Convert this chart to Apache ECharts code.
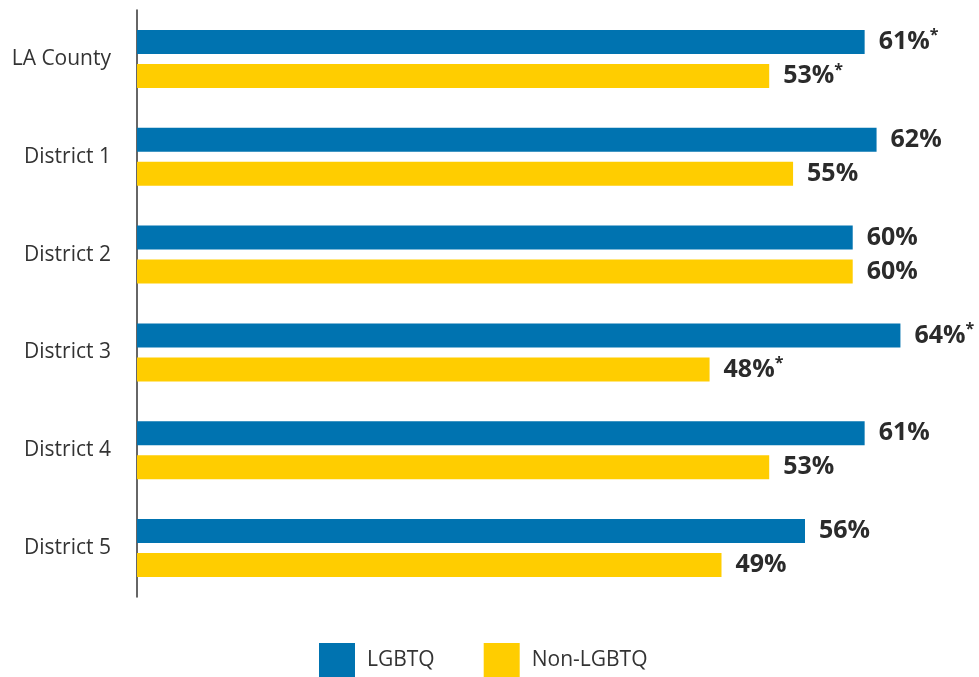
<!DOCTYPE html>
<html><head><meta charset="utf-8">
<script src="https://cdn.jsdelivr.net/npm/echarts@6/dist/echarts.min.js"></script>
<style>html,body{margin:0;padding:0;background:#fff}#c{width:979px;height:677px}</style>
</head><body><div id="c"></div>
<script>
const categories = ['LA County','District 1','District 2','District 3','District 4','District 5'];
const lgbtq = [61, 62, 60, 64, 61, 56];
const nonLgbtq = [53, 55, 60, 48, 53, 49];
const lgbtqStar = [true, false, false, true, false, false];
const nonLgbtqStar = [true, false, false, true, false, false];
const seriesNames = ['LGBTQ', 'Non-LGBTQ'];

const chart = echarts.init(document.getElementById('c'));
const font = '"Open Sans", "Noto Sans", sans-serif';
function mkLabel(stars){
  return {
    show: true, position: 'right', distance: 14,
    formatter: p => p.value + '%' + (stars[p.dataIndex] ? '{s|*}' : ''),
    fontFamily: font, fontSize: 25, fontWeight: 'bold', color: '#2b2b2b',
    rich: { s: { fontFamily: font, fontSize: 16, fontWeight: 'bold', color: '#2b2b2b', verticalAlign: 'top', padding: [0,0,12,0] } }
  };
}
chart.setOption({
  animation: false,
  textStyle: { fontFamily: font },
  grid: { left: 137, width: 835, top: 10, height: 587, containLabel: false },
  xAxis: { type: 'value', min: 0, max: 70, show: false },
  yAxis: {
    type: 'category', data: categories, inverse: true,
    axisLine: { show: true, lineStyle: { color: '#333', width: 1.5 } },
    axisTick: { show: false },
    axisLabel: { fontFamily: font, fontSize: 21, color: '#333', margin: 26 }
  },
  legend: {
    bottom: -5, left: 314, itemWidth: 36, itemHeight: 34, itemGap: 49,
    icon: 'rect',
    textStyle: { fontFamily: font, fontSize: 21, color: '#333', padding: [0,0,0,7] },
    data: seriesNames
  },
  series: [
    { name: seriesNames[0], type: 'bar', data: lgbtq, barWidth: 24, barGap: '42%',
      itemStyle: { color: '#0073B0' }, label: mkLabel(lgbtqStar) },
    { name: seriesNames[1], type: 'bar', data: nonLgbtq, barWidth: 24,
      itemStyle: { color: '#FFCD00' }, label: mkLabel(nonLgbtqStar) }
  ]
});
</script></body></html>
